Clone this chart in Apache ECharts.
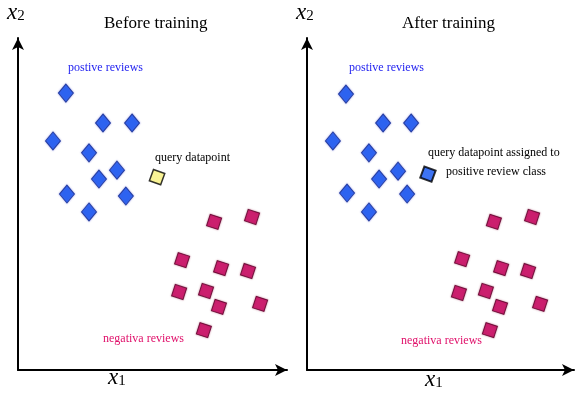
<!DOCTYPE html>
<html><head><meta charset="utf-8">
<script src="https://cdn.jsdelivr.net/npm/echarts@6/dist/echarts.min.js"></script>
<style>html,body{margin:0;padding:0;background:#fff}#c{width:576px;height:393px}</style>
</head><body><div id="c"></div>
<script>
// Data (arbitrary units 0..10 on both axes)
const panelTitles = ['Before training', 'After training'];
const beforePositive = [[1.78,8.34],[3.16,7.44],[4.24,7.44],[1.30,6.90],[2.64,6.54],[3.68,6.02],[3.01,5.75],[1.82,5.30],[4.01,5.24],[2.64,4.76]];
const beforeNegative = [[7.29,4.46],[8.70,4.61],[6.10,3.31],[7.55,3.07],[8.55,2.98],[5.99,2.35],[6.99,2.38],[7.47,1.90],[9.00,1.99],[6.91,1.20]];
const beforeQuery = [[5.17,5.81]];
const afterPositive = [[1.46,8.31],[2.85,7.44],[3.90,7.44],[0.97,6.90],[2.32,6.54],[3.41,5.99],[2.70,5.75],[1.50,5.33],[3.75,5.30],[2.32,4.76]];
const afterNegative = [[7.00,4.46],[8.43,4.61],[5.81,3.34],[7.27,3.07],[8.28,2.98],[5.69,2.32],[6.70,2.38],[7.23,1.90],[8.73,1.99],[6.85,1.20]];
const afterQuery = [[4.53,5.90]];

const chart = echarts.init(document.getElementById('c'), null, {renderer:'canvas'});
const serif = '"Liberation Serif", "DejaVu Serif", serif';

function axisX(gi){
  return {type:'value', gridIndex:gi, min:0, max:10,
    axisLine:{show:true, onZero:false, symbol:['none','arrow'], symbolSize:[9,12], lineStyle:{color:'#000', width:2}},
    axisTick:{show:false}, axisLabel:{show:false}, splitLine:{show:false}};
}
function axisY(gi){
  return {type:'value', gridIndex:gi, min:0, max:10,
    axisLine:{show:true, onZero:false, symbol:['none','arrow'], symbolSize:[9,12], lineStyle:{color:'#000', width:2}},
    axisTick:{show:false}, axisLabel:{show:false}, splitLine:{show:false}};
}
const posStyle = {color:'#0c50f0', borderColor:'#122c8c', borderWidth:1, shadowBlur:2, shadowColor:'rgba(90,90,220,0.6)'};
const negStyle = {color:'#c8005e', borderColor:'#5a0028', borderWidth:1, shadowBlur:2, shadowColor:'rgba(150,0,60,0.5)'};

function pos(gi, data){
  return {type:'scatter', xAxisIndex:gi, yAxisIndex:gi, data:data, symbol:'diamond', symbolSize:[15,18], itemStyle:posStyle, silent:true};
}
function neg(gi, data){
  return {type:'scatter', xAxisIndex:gi, yAxisIndex:gi, data:data, symbol:'rect', symbolSize:12, symbolRotate:-18, itemStyle:negStyle, silent:true};
}

function txt(x, y, text, color, size, align){
  return {type:'text', left:x, top:y, style:{text:text, fill:color, font:size+'px '+serif, textAlign:align||'left'}};
}
function axisName(x, y, sub){
  return {type:'text', left:x, top:y, style:{rich:{x:{fontFamily:serif, fontStyle:'italic', fontSize:23, fill:'#000'}, s:{fontFamily:serif, fontSize:15, fill:'#000', padding:[8,0,0,0]}}, text:'{x|x}{s|'+sub+'}'}};
}

chart.setOption({
  animation:false,
  backgroundColor:'#fff',
  grid:[
    {left:18, top:38, width:269, height:332},
    {left:307, top:38, width:267, height:332}
  ],
  xAxis:[axisX(0), axisX(1)],
  yAxis:[axisY(0), axisY(1)],
  title:[
    {text:panelTitles[0], left:99, top:10, textStyle:{fontFamily:serif, fontSize:17, fontWeight:'normal', color:'#000'}},
    {text:panelTitles[1], left:397, top:10, textStyle:{fontFamily:serif, fontSize:17, fontWeight:'normal', color:'#000'}}
  ],
  series:[
    pos(0, beforePositive),
    neg(0, beforeNegative),
    {type:'scatter', xAxisIndex:0, yAxisIndex:0, data:beforeQuery, symbol:'rect', symbolSize:12, symbolRotate:-20,
      itemStyle:{color:'#f7f07a', borderColor:'#000', borderWidth:1.5}, silent:true},
    pos(1, afterPositive),
    neg(1, afterNegative),
    {type:'scatter', xAxisIndex:1, yAxisIndex:1, data:afterQuery, symbol:'rect', symbolSize:12, symbolRotate:-20,
      itemStyle:{color:'#0c50f0', borderColor:'#000', borderWidth:2}, silent:true}
  ],
  graphic:[
    axisName(7, 1, '2'),
    axisName(296, 1, '2'),
    axisName(108, 366, '1'),
    axisName(425, 368, '1'),
    txt(68, 62, 'postive reviews', '#2424f0', 12),
    txt(349, 62, 'postive reviews', '#2424f0', 12),
    txt(155, 152, 'query datapoint', '#000', 12),
    txt(428, 147, 'query datapoint assigned to', '#000', 12),
    txt(446, 166, 'positive review class', '#000', 12),
    txt(103, 333, 'negativa reviews', '#e0106a', 12),
    txt(401, 335, 'negativa reviews', '#e0106a', 12)
  ]
});
</script></body></html>
